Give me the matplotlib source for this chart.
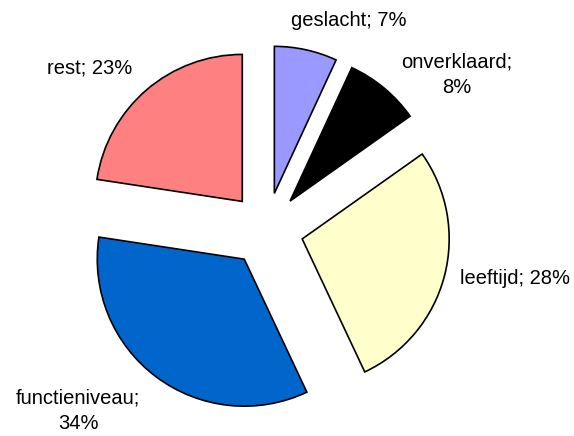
import numpy as np
import matplotlib.pyplot as plt

plt.rcParams['font.family'] = ['Liberation Sans', 'DejaVu Sans']

# data (clockwise from 12 o'clock), shares
categorieen = ["geslacht", "onverklaard", "leeftijd", "functieniveau", "rest"]
aandeel = [6.9, 8.3, 27.8, 34.4, 22.6]
kleuren = ["#9999FF", "#000000", "#FFFFCC", "#0066CC", "#FF8080"]
# categories that wrap their label onto two lines
tweeregelig = ["onverklaard", "functieniveau"]

# label positions in pixels (x, y from top)
label_pos = [(349, 21), (457, 75), (515, 278), (78, 411), (90, 68)]

W, H = 574, 436
fig = plt.figure(figsize=(W / 100, H / 100), dpi=100)
ax = fig.add_axes([0, 0, 1, 1])

straal = 147
# explode in matplotlib is in data units (here: pixels)
ax.pie(aandeel, colors=kleuren, startangle=90, counterclock=False,
       radius=straal, center=(266.4, H - 229.5),
       explode=[37] * len(aandeel),
       wedgeprops=dict(edgecolor="black", linewidth=1.2))

for naam, waarde, (x, y) in zip(categorieen, aandeel, label_pos):
    sep = "\n" if naam in tweeregelig else " "
    tekst = f"{naam};{sep}{round(waarde):d}%"
    ax.text(x, H - y, tekst, ha="center", va="center", fontsize=14.5,
            linespacing=1.45, color="black")

ax.set_xlim(0, W)
ax.set_ylim(0, H)
ax.set_aspect("auto")
ax.axis("off")

fig.savefig("out.png", dpi=100)
